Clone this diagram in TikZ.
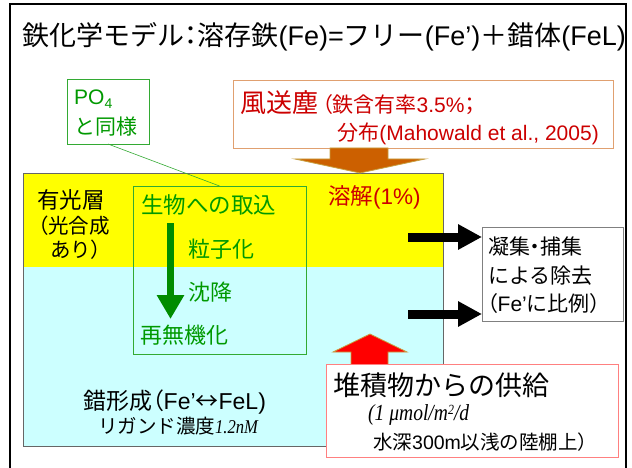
\documentclass[tikz,border=0pt]{standalone}
\usepackage{fontspec}
\setmainfont{Noto Sans CJK JP}
\newfontfamily\pp[RawFeature=+palt]{Noto Sans CJK JP}
\newfontfamily\lat{Liberation Sans}
\newfontfamily\ser[FakeStretch=0.85]{Liberation Serif}
\usetikzlibrary{arrows.meta}
\newcommand{\fsz}[1]{\fontsize{#1}{#1}\selectfont}
\definecolor{ylw}{HTML}{FFFF00}
\definecolor{cyn}{HTML}{CCFFFF}
\definecolor{grn}{HTML}{009900}
\definecolor{grnline}{HTML}{33AA33}
\definecolor{grnarrow}{HTML}{008C00}
\definecolor{redtxt}{HTML}{CC0000}
\definecolor{dustbd}{HTML}{E0A070}
\definecolor{sedbd}{HTML}{FF8080}
\definecolor{orarrow}{HTML}{CC6000}
\definecolor{goldedge}{HTML}{C8A040}
\definecolor{edgegrey}{HTML}{666666}
\begin{document}
\begin{tikzpicture}[x=1pt,y=-1pt,
  t/.style={inner sep=0pt, anchor=west},
  gt/.style={t, text=grn, font=\fsz{22}},
  region/.style={draw=none, inner sep=0pt, outer sep=0pt, anchor=north west},
  boxw/.style={fill=white, inner sep=0pt, outer sep=0pt, anchor=north west, line width=0.8pt},
  blkarrow/.style={line width=9pt, -{Triangle[length=24pt,width=24pt]}},
  grnarr/.style={grnarrow, line width=7pt, -{Triangle[length=24pt,width=26pt]}},
  blockarrow/.style={line width=0.8pt, draw=goldedge}]
\useasboundingbox (0,0) rectangle (632,468);
\fill[white] (0,0) rectangle (632,468);
\draw[line width=2pt] (10,468) -- (10,4) -- (626,4) -- (626,468);

\node[t, font=\fsz{27}] (title) at (22,37) {鉄化学モデル{\pp ：}溶存鉄{\lat (Fe)=}フリー{\lat (Fe’)}＋錯体{\lat (FeL)}};

% ocean layers
\node[region, fill=cyn, minimum width=420, minimum height=179] (aphotic) at (23,267) {};
\node[region, fill=ylw, minimum width=420, minimum height=94] (euphotic) at (23,173) {};
\draw[edgegrey, line width=0.8pt] (euphotic.north west) rectangle (aphotic.south east);

% biological box
\node[boxw, fill=none, draw=grnline, minimum width=173, minimum height=168] (bio) at (133,186) {};
\node[gt, font=\fsz{22.5}] (uptake) at (141,205) {生物への取込};
\node[gt] (partic) at (188,249) {粒子化};
\node[gt] (sink) at (188,292) {沈降};
\node[gt] (remin) at (140,335) {再無機化};
\coordinate (gA) at (170.5,223);
\coordinate (gB) at (170.5,319);
\draw[grnarr] (gA) -- (gB);

% euphotic labels
\node[t, font=\fsz{22.5}] (euph) at (37,200) {有光層};
\node[t, font=\fsz{20.5}] (euph2) at (38,226) {{\pp （}光合成};
\node[t, font=\fsz{20.5}] (euph3) at (50,250) {あり{\pp ）}};
\node[t, text=redtxt, font=\fsz{22.5}] (dissol) at (328,197) {溶解{\lat (1\%)}};

% PO4 box
\node[boxw, draw=grnline, minimum width=82, minimum height=65] (po4) at (67,79) {};
\node[t, text=grn, font=\fsz{21}] (po4a) at (74,99) {\lat PO\raisebox{-0.35ex}{\fsz{14}4}};
\node[t, text=grn, font=\fsz{21}] (po4b) at (74,127) {と同様};
\draw[grnline, line width=0.6pt] (po4.south) -- (bio.north);

% dust box
\node[boxw, draw=dustbd, minimum width=380, minimum height=68] (dust) at (233,80) {};
\node[t, text=redtxt] (dust1) at (240,103) {{\fsz{26}風送塵}\hspace{4pt}{\fsz{21}\pp （}{\fsz{21}鉄含有率{\lat 3.5\%}{\pp ；}}};
\node[inner sep=0pt, anchor=east, text=redtxt, font=\fsz{21}] (dust3) at (599,134) {分布{\lat (Mahowald et al., 2005)}};

% orange block arrow
\fill[blockarrow, fill=orarrow] (330,148) -- (388,148) -- (388,159) -- (425,159) -- (360,173) -- (295,159) -- (330,159) -- cycle;

% removal box
\node[boxw, draw=black!50, minimum width=141, minimum height=94] (removal) at (482,227) {};
\node[t, font=\fsz{21}] (rem1) at (488,247) {凝集{\pp ・}捕集};
\node[t, font=\fsz{21}] (rem2) at (488,276) {による除去};
\node[t, font=\fsz{21}] (rem3) at (487,304) {{\pp （}{\lat Fe’}に比例{\pp ）}};
\coordinate (bA1) at (408,237);
\coordinate (bA2) at (408,314);
\draw[blkarrow] (bA1) -- (bA1 -| removal.west);
\draw[blkarrow] (bA2) -- (bA2 -| removal.west);

% complexation text
\node[t, font=\fsz{23}] (cplx1) at (83,402) {錯形成{\pp （}{\lat Fe’}↔{\lat FeL)}};
\node[t, font=\fsz{19.5}] (cplx2) at (98,426) {リガンド濃度{\ser\itshape 1.2nM}};

% red block arrow
\fill[blockarrow, fill=red] (351,366) -- (351,352) -- (333,352) -- (370,334) -- (407,352) -- (388,352) -- (388,366) -- cycle;

% sediment box
\node[boxw, draw=sedbd, minimum width=292, minimum height=93] (sed) at (326,364) {};
\node[t, font=\fsz{27}] (sed1) at (333,385) {堆積物からの供給};
\node[t, font=\fsz{23}] (sed2) at (368,415) {\ser\itshape (1 μmol/m\raisebox{0.6ex}{\fsz{14}2}/d};
\node[t, font=\fsz{19.5}] (sed3) at (373,442) {水深{\lat 300m}以浅の陸棚上{\pp ）}};
\end{tikzpicture}
\end{document}
